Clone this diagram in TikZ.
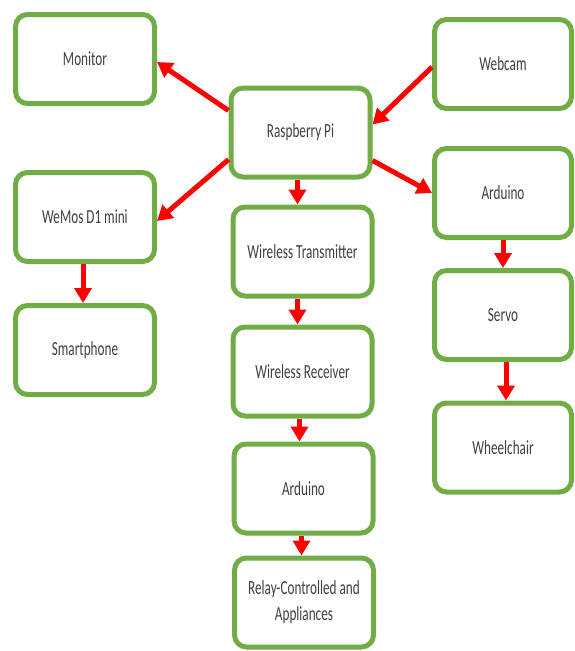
\documentclass[tikz,border=0pt]{standalone}
\usepackage{fontspec}
\newfontfamily\lblfont{Carlito}[FakeStretch=0.66]
\usetikzlibrary{arrows.meta}
\definecolor{boxgreen}{RGB}{112,173,71}
\definecolor{textgray}{RGB}{64,64,64}
\begin{document}
\begin{tikzpicture}[x=1pt,y=-1pt,
  box/.style={draw=boxgreen, line width=5pt, rounded corners=12pt, fill=white,
    minimum width=139pt, minimum height=89pt, inner sep=0pt, align=center,
    text=textgray, font={\lblfont\fontsize{20}{26}\selectfont}},
  arr/.style={draw=red, line width=5pt, -{Triangle[length=15pt,width=17pt]}}]
\useasboundingbox (0,0) rectangle (574,651);
\node[box] (mon) at (85,59) {Monitor};
\node[box] (wem) at (85,217) {WeMos D1 mini};
\node[box] (sma) at (85,350) {Smartphone};
\node[box] (rpi) at (300.5,132.5) {Raspberry Pi};
\node[box, minimum width=137pt] (web) at (503,64) {Webcam};
\node[box, minimum width=137pt] (ardr) at (503,193) {Arduino};
\node[box, minimum width=137pt] (ser) at (503,315) {Servo};
\node[box, minimum width=137pt] (whe) at (503,447.5) {Wheelchair};
\node[box] (wtx) at (302.5,251.5) {Wireless Transmitter};
\node[box] (wrx) at (302.5,371.5) {Wireless Receiver};
\node[box] (ardc) at (303.5,488.5) {Arduino};
\node[box] (rel) at (304,602.5) {Relay-Controlled and\\Appliances};
\draw[arr] ([yshift=22pt]rpi.west) -- ([yshift=-3pt]mon.east);
\draw[arr] ([yshift=-27pt]rpi.west) -- ([yshift=-4pt]wem.east);
\draw[arr] ([yshift=-3pt]web.west) -- ([yshift=8pt]rpi.east);
\draw[arr] ([yshift=-28pt]rpi.east) -- (ardr.west);
\draw[arr] ([xshift=-3pt]rpi.south) -- ([xshift=-3pt]rpi.south |- wtx.north);
\draw[arr] ([xshift=-5pt]wtx.south) -- ([xshift=-5pt]wtx.south |- wrx.north);
\draw[arr] ([xshift=-3pt]wrx.south) -- ([xshift=-3pt]wrx.south |- ardc.north);
\draw[arr] ([xshift=-2pt]ardc.south) -- ([xshift=-2pt]ardc.south |- rel.north);
\draw[arr] ([xshift=-2pt]wem.south) -- ([xshift=-2pt]wem.south |- sma.north);
\draw[arr] ([xshift=0pt]ardr.south) -- ([xshift=0pt]ardr.south |- ser.north);
\draw[arr] ([xshift=3pt]ser.south) -- ([xshift=3pt]ser.south |- whe.north);
\end{tikzpicture}
\end{document}
